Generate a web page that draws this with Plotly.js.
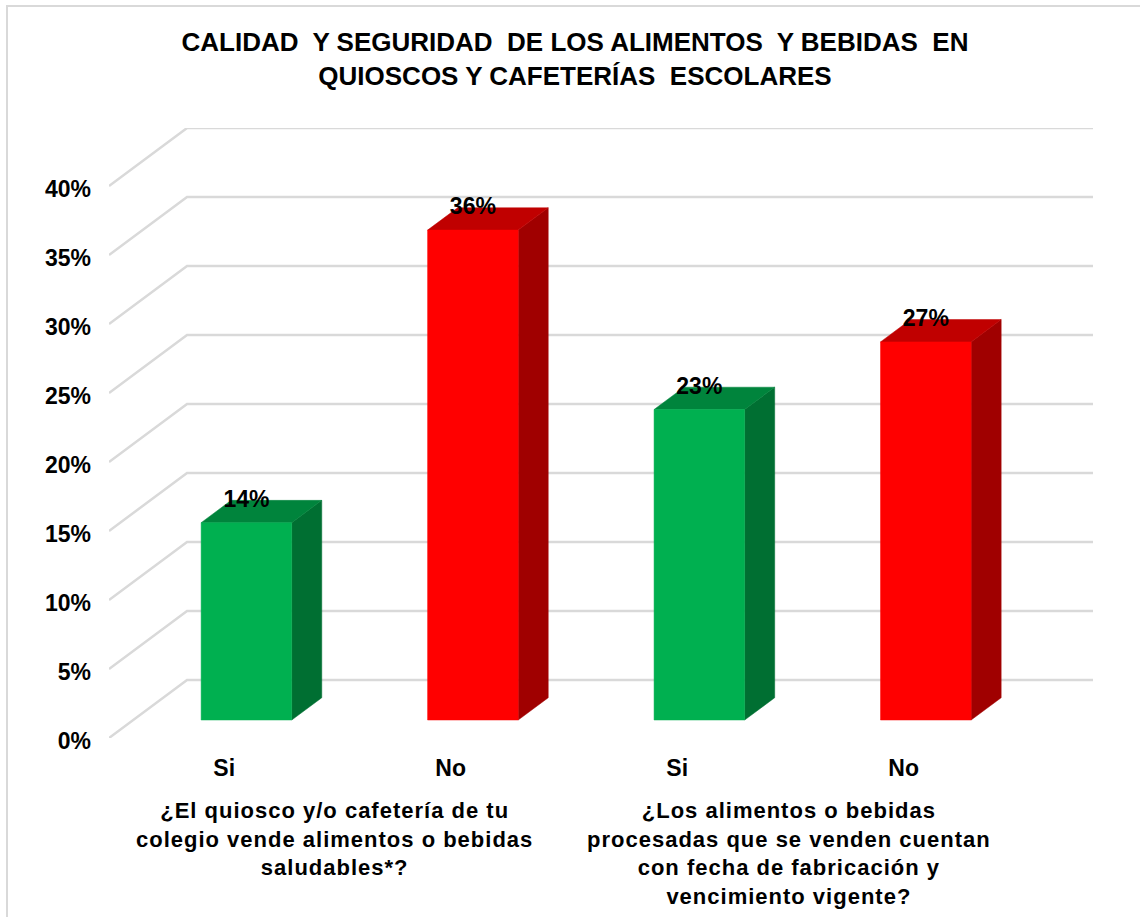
<!DOCTYPE html>
<html>
<head>
<meta charset="utf-8">
<script src="https://cdn.plot.ly/plotly-3.0.1.min.js"></script>
<style>html,body{margin:0;padding:0;background:#fff}#chart{width:1140px;height:917px}
.annotation-text{letter-spacing:1px}</style>
</head>
<body>
<div id="chart"></div>
<script>
// Data
const categories = ['Si', 'No', 'Si', 'No'];
const values = [14.3, 35.5, 22.5, 27.4];
const valueLabels = ['14%', '36%', '23%', '27%'];
const yTicks = [0, 5, 10, 15, 20, 25, 30, 35, 40];
const groupTitles = [
  '¿El quiosco y/o cafetería de tu<br>colegio vende alimentos o bebidas<br>saludables*?',
  '¿Los alimentos o bebidas<br>procesadas que se venden cuentan<br>con fecha de fabricación y<br>vencimiento vigente?'
];
const groupCenters = [0.495, 2.503];
const frontColors = ['#00B050', '#FF0000', '#00B050', '#FF0000'];
const topColors = ['#00843C', '#C00000', '#00843C', '#C00000'];
const sideColors = ['#006F32', '#A00000', '#006F32', '#A00000'];

// Pseudo-3D projection, in axis units
const depthX = 0.3446, depthY = 4.2;          // full floor depth
const barFrontAt = 0.31;                       // fraction of the depth where bars start
const barDepth = 0.385;                        // fraction of the depth bars occupy
const barHalf = 0.2;
const xMin = -0.5, xMax = 3.845, yMax = 44.2;
const FONT = 'Liberation Sans, Arial, sans-serif';

const traces = [];
yTicks.forEach(t => traces.push({
  type: 'scatter', mode: 'lines', hoverinfo: 'skip', showlegend: false, cliponaxis: false,
  x: [xMin, xMin + depthX, xMax], y: [t, t + depthY, t + depthY],
  line: {color: '#D9D9D9', width: 2.5}
}));

function face(xs, ys, color) {
  traces.push({
    type: 'scatter', mode: 'lines', fill: 'toself', fillcolor: color,
    hoverinfo: 'skip', showlegend: false, x: xs, y: ys, line: {color: color, width: 0.5}
  });
}
values.forEach((v, i) => {
  const cx = i + depthX * barFrontAt, base = depthY * barFrontAt;
  const x0 = cx - barHalf, x1 = cx + barHalf, top = base + v;
  const dx = depthX * barDepth, dy = depthY * barDepth;
  face([x1, x1 + dx, x1 + dx, x1, x1], [base, base + dy, top + dy, top, base], sideColors[i]);
  face([x0, x1, x1 + dx, x0 + dx, x0], [top, top, top + dy, top + dy, top], topColors[i]);
  face([x0, x1, x1, x0, x0], [base, base, top, top, base], frontColors[i]);
});
traces.push({
  type: 'scatter', mode: 'text', hoverinfo: 'skip', showlegend: false, cliponaxis: false,
  x: values.map((v, i) => i + depthX * barFrontAt),
  y: values.map(v => depthY * barFrontAt + v + 1.57),
  text: valueLabels, textposition: 'middle center',
  textfont: {family: FONT, size: 23, color: '#000', weight: 700}
});

const W = 1140, H = 917, mL = 109, mR = 47, mT = 128, mB = 179;
const pW = W - mL - mR, pH = H - mT - mB;
const px = p => (p - mL) / pW, py = p => (H - mB - p) / pH;

const layout = {
  width: W, height: H,
  margin: {l: mL, r: mR, t: mT, b: mB, pad: 0},
  paper_bgcolor: '#fff', plot_bgcolor: 'rgba(0,0,0,0)',
  showlegend: false,
  title: {
    text: 'CALIDAD  Y SEGURIDAD  DE LOS ALIMENTOS  Y BEBIDAS  EN<br>QUIOSCOS Y CAFETERÍAS  ESCOLARES',
    font: {family: FONT, size: 26, color: '#000', weight: 700},
    x: 575 / W, xanchor: 'center', xref: 'container', y: 1 - 51 / H, yanchor: 'top', yref: 'container', pad: {t: 0, b: 0}
  },
  xaxis: {
    range: [xMin, xMax], tickmode: 'array', tickvals: categories.map((c, i) => i), ticktext: categories,
    showgrid: false, zeroline: false, showline: false, ticks: '', ticklabelstandoff: 14, ticklabelshift: 2, fixedrange: true,
    tickfont: {family: FONT, size: 23, color: '#000', weight: 700}
  },
  yaxis: {
    range: [0, yMax], tickmode: 'array', tickvals: yTicks, ticktext: yTicks.map(t => t + '%'),
    showgrid: false, zeroline: false, showline: false, ticks: '', ticklabelstandoff: 17, ticklabelshift: 3, fixedrange: true,
    tickfont: {family: FONT, size: 23, color: '#000', weight: 700}
  },
  annotations: groupTitles.map((t, i) => ({
    text: t, xref: 'x', x: groupCenters[i], yref: 'paper', y: py(797), yanchor: 'top', xanchor: 'center',
    align: 'center', showarrow: false, borderpad: 0,
    font: {family: FONT, size: 22, color: '#000', weight: 700}
  })),
  shapes: [{
    type: 'rect', xref: 'paper', yref: 'paper', layer: 'below',
    x0: px(7), x1: px(1160), y0: py(940), y1: py(6),
    line: {color: '#D9D9D9', width: 2}, fillcolor: 'rgba(0,0,0,0)'
  }]
};
Plotly.newPlot('chart', traces, layout, {displayModeBar: false, staticPlot: true});
</script>
</body>
</html>
